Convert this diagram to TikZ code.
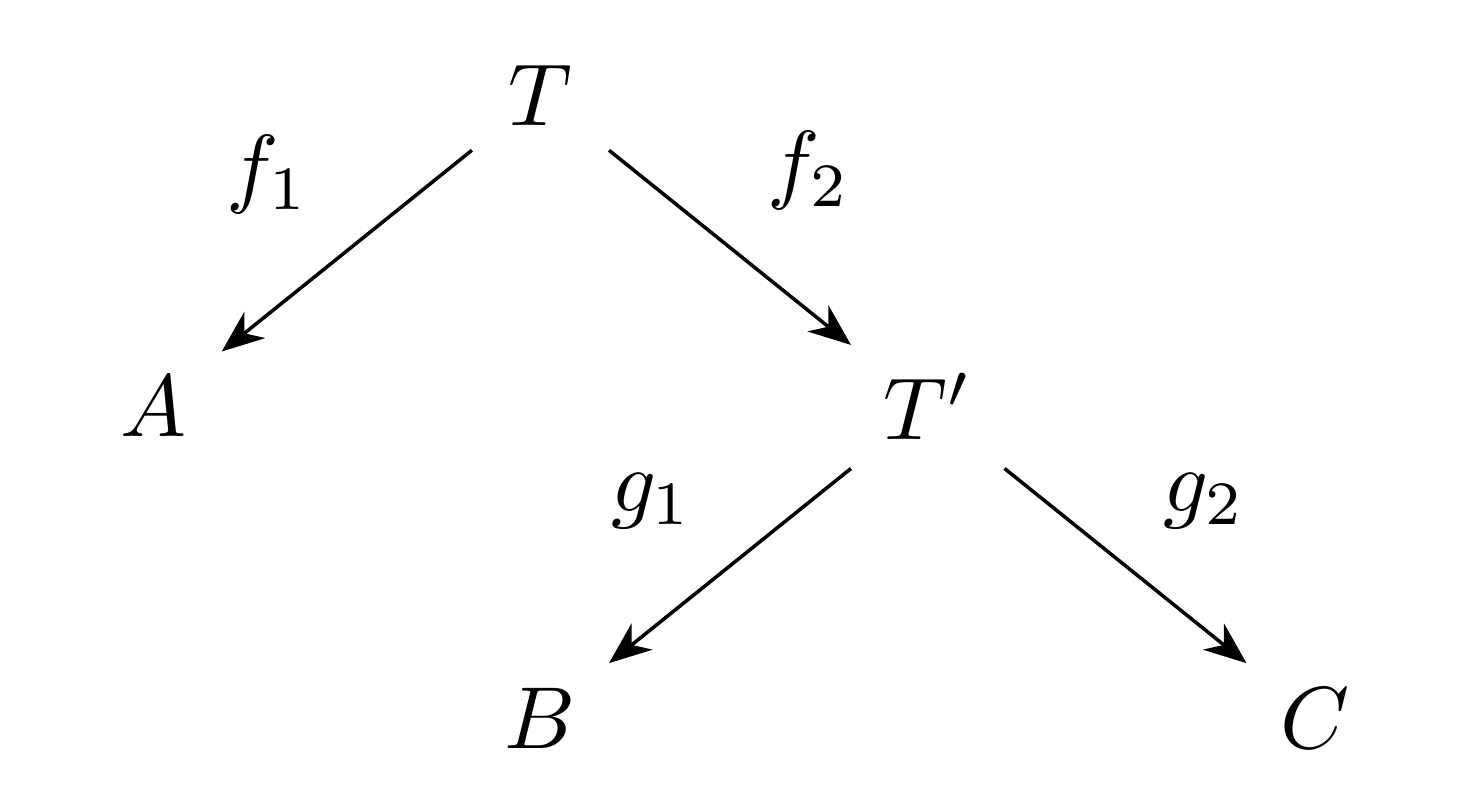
\documentclass[tikz,border=0pt]{standalone}
\usepackage{tikz}
\usetikzlibrary{arrows.meta,positioning}
\tikzstyle{line} = [draw, line width=0.4pt, -{Stealth[length=4.8pt,width=3.8pt,inset=1.5pt]}]
\tikzstyle{obj} = [circle, inner sep=0pt, minimum size=19.6pt]
\tikzstyle{lbl} = [inner sep=3pt]
\begin{document}
\begin{tikzpicture}[node distance = 35.4pt and 44pt, on grid, auto]
        \useasboundingbox (-61.4pt,10.8pt) rectangle (105.6pt,-81.2pt);
        \node[obj] (T) at (0,0) {$T$};
        \node[obj, below left=of T] (A) {$A$};
        \node[obj, below right=of T, minimum size=22pt] (Tp) {$T'$};
        \node[obj, below left=of Tp] (B) {$B$};
        \node[obj, below right=of Tp] (C) {$C$};
        \path[line] (T) -- node[lbl, pos=0.5, above left=1.5pt] (f1) {$f_1$} (A);
        \path[line] (T) -- node[lbl, pos=0.5, above right=1.5pt] (f2) {$f_2$} (Tp);
        \path[line] (Tp) -- node[lbl, pos=0.5, above left=1.5pt] (g1) {$g_1$} (B);
        \path[line] (Tp) -- node[lbl, pos=0.5, above right=1.5pt] (g2) {$g_2$} (C);
    \end{tikzpicture}
\end{document}
